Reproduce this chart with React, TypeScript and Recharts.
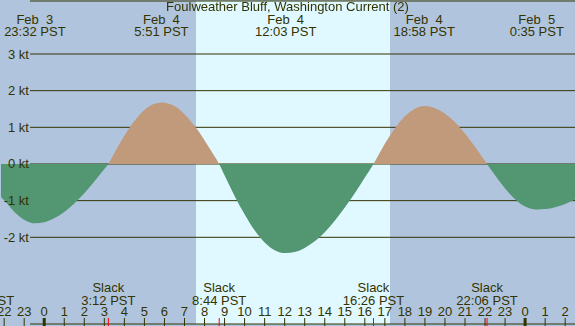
import React from 'react';
import {
  ComposedChart,
  Area,
  XAxis,
  YAxis,
  CartesianGrid,
} from 'recharts';

const W = 575;
const H = 326;

const FONT = '"Liberation Sans", Arial, sans-serif';
const TEXT = '#333300';
const NIGHT = '#b0c4de';
const DAY = '#e0f8ff';
const FLOOD = '#c09a7a';
const EBB = '#529672';
const RED = '#ff0000';

const X_DOMAIN: [number, number] = [-2.157, 26.49];
const Y_DOMAIN: [number, number] = [-4.365, 4.446];

const curveTimes = [
  -2.157, -2, -1.5, -1, -0.467, 0, 0.5, 1, 1.5, 2, 2.5, 3, 3.2,
  3.5, 4, 4.5, 5, 5.5, 5.85, 6.5, 7, 7.5, 8, 8.5, 8.733,
  9, 9.5, 10, 10.5, 11, 11.5, 12.05, 12.5, 13, 13.5, 14, 14.5, 15, 15.5, 16, 16.433,
  17, 17.5, 18, 18.5, 18.967, 19.5, 20, 20.5, 21, 21.5, 22.1,
  22.5, 23, 23.5, 24, 24.583, 25, 25.5, 26, 26.49,
];
const currentKnots = [
  -0.9, -0.99, -1.3, -1.52, -1.62, -1.59, -1.48, -1.31, -1.08, -0.8, -0.48, -0.14, 0,
  0.3, 0.77, 1.17, 1.47, 1.64, 1.68, 1.58, 1.36, 1.04, 0.65, 0.21, 0,
  -0.31, -0.87, -1.37, -1.81, -2.14, -2.35, -2.43, -2.4, -2.29, -2.11, -1.86, -1.55, -1.19, -0.8, -0.37, 0,
  0.55, 0.97, 1.3, 1.51, 1.58, 1.52, 1.37, 1.14, 0.83, 0.47, 0,
  -0.31, -0.67, -0.96, -1.16, -1.24, -1.23, -1.18, -1.09, -0.97,
];

const yTicks = [3, 2, 1, 0, -1, -2];
const hourTicks = [-2, -1, 0, 1, 2, 3, 4, 5, 6, 7, 8, 9, 10, 11, 12, 13, 14, 15, 16, 17, 18, 19, 20, 21, 22, 23, 24, 25, 26];

const eventTimes = [-0.467, 5.85, 12.05, 18.967, 24.583];
const eventDates = ['Feb  3', 'Feb  4', 'Feb  4', 'Feb  4', 'Feb  5'];
const eventClock = ['23:32 PST', '5:51 PST', '12:03 PST', '18:58 PST', '0:35 PST'];

const slackTimes = [-3.033, 3.2, 8.733, 16.433, 22.1];
const slackClock = ['20:58 PST', '3:12 PST', '8:44 PST', '16:26 PST', '22:06 PST'];

// sunrise / sunset, Feb 4
const sunTimes = [7.57, 17.28];
const sunFills = [NIGHT, DAY, NIGHT];

const TITLE = 'Foulweather Bluff, Washington Current (2)';

const data = curveTimes.map((t, i) => ({ t, v: currentKnots[i] }));
const zeroFrac = Y_DOMAIN[1] / (Y_DOMAIN[1] - Y_DOMAIN[0]);

const txt = { fontFamily: FONT, fontSize: 13, fill: TEXT, whiteSpace: 'pre' as const };

const HourTick = (props: any) => {
  const { x, payload } = props;
  const h = payload.value;
  const label = ((h % 24) + 24) % 24;
  const mid = label === 0;
  return (
    <g>
      <text x={x} y={316} textAnchor="middle" style={txt}>{String(label)}</text>
      <rect x={mid ? x - 1.5 : x - 0.5} y={318} width={mid ? 3 : 1} height={8} fill={TEXT} />
    </g>
  );
};

const SlackTick = (props: any) => {
  const { x, index } = props;
  return (
    <g>
      <text x={x} y={292} textAnchor="middle" style={txt}>Slack</text>
      <text x={x} y={304.5} textAnchor="middle" style={txt}>{slackClock[index]}</text>
      <rect x={x - 0.5} y={318} width={1} height={8} fill={RED} />
    </g>
  );
};

const EventTick = (props: any) => {
  const { x, index } = props;
  return (
    <g>
      <text x={x} y={24} textAnchor="middle" style={txt}>{eventDates[index]}</text>
      <text x={x} y={36} textAnchor="middle" style={txt}>{eventClock[index]}</text>
    </g>
  );
};

const YTick = (props: any) => {
  const { y, payload } = props;
  return (
    <text x={29} y={y + 4.5} textAnchor="end" style={txt}>{`${payload.value} kt`}</text>
  );
};

const GridLine = (props: any) => {
  const { y1, x2 } = props;
  return <line x1={30} x2={x2} y1={y1} y2={y1} stroke={TEXT} strokeWidth={1} />;
};

const NoLine = () => <g />;

const toPx = (scale: any, t: number): number => {
  if (typeof scale === 'function') return scale(t);
  if (scale && typeof scale.map === 'function') {
    const r = scale.map(t);
    if (typeof r === 'number') return r;
  }
  if (scale && typeof scale.domain === 'function' && typeof scale.range === 'function') {
    const d = scale.domain();
    const r = scale.range();
    return r[0] + ((t - d[0]) / (d[d.length - 1] - d[0])) * (r[r.length - 1] - r[0]);
  }
  return NaN;
};

const sunCoords = (p: any) => {
  try {
    const scale = p && p.xAxis && p.xAxis.scale;
    if (!scale) return [];
    const pts = sunTimes.map((t) => toPx(scale, t));
    return pts.every((v) => Number.isFinite(v)) ? pts : [];
  } catch (e) {
    return [];
  }
};

export default function App() {
  return (
    <div style={{ position: 'fixed', left: 0, top: 0, width: W, height: H, background: NIGHT }}>
      <ComposedChart width={W} height={H} data={data} margin={{ top: 0, right: 0, bottom: 0, left: 0 }}>
        <defs>
          <linearGradient id="flowFill" x1="0" y1="0" x2="0" y2={H} gradientUnits="userSpaceOnUse">
            <stop offset={zeroFrac} stopColor={FLOOD} />
            <stop offset={zeroFrac} stopColor={EBB} />
          </linearGradient>
        </defs>
        <CartesianGrid
          xAxisId="h"
          vertical={<NoLine />}
          verticalCoordinatesGenerator={sunCoords}
          verticalFill={sunFills}
          fillOpacity={1}
          horizontal={<GridLine />}
        />
        <Area
          xAxisId="h"
          dataKey="v"
          type="monotone"
          baseValue={0}
          stroke="none"
          fill="url(#flowFill)"
          fillOpacity={1}
          isAnimationActive={false}
          dot={false}
          activeDot={false}
        />
        <XAxis
          xAxisId="h"
          dataKey="t"
          type="number"
          domain={X_DOMAIN}
          allowDataOverflow
          ticks={hourTicks}
          interval={0}
          height={1}
          axisLine={false}
          tickLine={false}
          tick={HourTick}
        />
        <XAxis
          xAxisId="s"
          dataKey="t"
          type="number"
          domain={X_DOMAIN}
          allowDataOverflow
          ticks={slackTimes}
          interval={0}
          height={1}
          axisLine={false}
          tickLine={false}
          tick={SlackTick}
        />
        <XAxis
          xAxisId="e"
          dataKey="t"
          orientation="top"
          type="number"
          domain={X_DOMAIN}
          allowDataOverflow
          ticks={eventTimes}
          interval={0}
          height={1}
          axisLine={false}
          tickLine={false}
          tick={EventTick}
        />
        <YAxis
          type="number"
          domain={Y_DOMAIN}
          allowDataOverflow
          ticks={yTicks}
          interval={0}
          width={1}
          axisLine={false}
          tickLine={false}
          tick={YTick}
        />
      </ComposedChart>
      <div
        style={{
          position: 'absolute',
          left: 0,
          top: 0,
          width: W,
          textAlign: 'center',
          fontFamily: FONT,
          fontSize: 13,
          color: TEXT,
          lineHeight: '14px',
          pointerEvents: 'none',
        }}
      >
        {TITLE}
      </div>
    </div>
  );
}
